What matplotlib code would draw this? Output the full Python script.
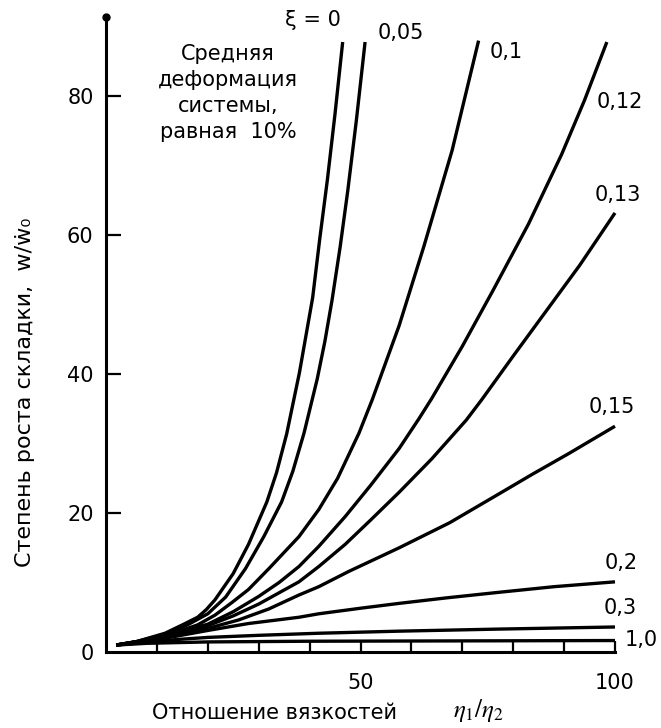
import matplotlib
matplotlib.use("Agg")
import matplotlib.pyplot as plt

plt.rcParams['font.family'] = ['DejaVu Sans']
plt.rcParams['mathtext.fontset'] = 'stix'

# ---- data ----
xi_labels = ["ξ = 0", "0,05", "0,1", "0,12", "0,13", "0,15", "0,2", "0,3", "1,0"]

eta_xi0 = [2, 6, 11.6, 15, 18, 19.7, 21.4, 25, 28, 31.6, 33.5, 35.5, 38, 40.6, 42, 43.5, 45, 46.5]
w_xi0 = [1.0, 1.5, 2.7, 3.9, 5.0, 6.1, 7.5, 11.3, 15.5, 21.6, 25.8, 31.4, 40.2, 51.0, 59.5, 68.0, 77.5, 87.8]

eta_xi005 = [2, 6, 12, 16, 20, 23.5, 27.4, 31, 34.5, 36.7, 38.9, 41.5, 43, 44.4, 46, 47.5, 49.2, 50.9]
w_xi005 = [1.0, 1.5, 2.6, 3.9, 5.5, 7.9, 12.0, 16.6, 21.6, 26.0, 31.5, 39.3, 44.7, 50.6, 58.3, 66.4, 76.6, 87.8]

eta_xi01 = [2, 8, 14, 18, 21.4, 24.7, 28, 32, 37.9, 41.8, 45.5, 49.7, 52.3, 57.6, 62.5, 68, 73.2]
w_xi01 = [1.0, 1.7, 2.9, 3.9, 5.3, 7.1, 9.0, 12.0, 16.6, 20.5, 25.0, 31.5, 36.3, 47.0, 58.5, 72.2, 88.0]

eta_xi012 = [2, 8, 14, 20, 25, 30, 34, 37.9, 41.8, 47, 52, 57.6, 61.5, 64, 70, 76, 83, 89.5, 94, 98.4]
w_xi012 = [1.0, 1.7, 2.8, 4.0, 5.8, 8.0, 10.0, 12.3, 15.2, 19.5, 24.0, 29.3, 33.6, 36.5, 44.0, 52.0, 61.6, 71.6, 79.4, 87.8]

eta_xi013 = [2, 8, 14, 20, 25, 30, 37.9, 41.8, 47, 52, 57.6, 64, 70.8, 73.8, 80, 87, 93.1, 100]
w_xi013 = [1.0, 1.7, 2.7, 3.8, 5.2, 6.9, 10.1, 12.3, 15.5, 19.0, 23.0, 27.8, 33.4, 36.3, 42.6, 49.6, 55.7, 63.2]

eta_xi015 = [2, 8, 14, 20, 26, 32, 37.9, 41.8, 47.7, 57.6, 67.5, 77.3, 83.8, 91, 100]
w_xi015 = [1.0, 1.6, 2.5, 3.4, 4.6, 6.2, 8.2, 9.4, 11.6, 15.0, 18.6, 22.8, 25.6, 28.6, 32.5]

eta_xi02 = [2, 8, 14, 20, 28, 37.9, 41.8, 50, 57.6, 67, 77.3, 88, 100]
w_xi02 = [1.0, 1.5, 2.3, 3.1, 4.1, 5.0, 5.5, 6.3, 7.0, 7.8, 8.6, 9.4, 10.1]

eta_xi03 = [2, 8, 14, 20, 30, 41.8, 57.6, 77.3, 100]
w_xi03 = [1.0, 1.4, 1.8, 2.1, 2.4, 2.7, 3.0, 3.3, 3.6]

eta_xi1 = [2, 8, 20, 40, 70, 100]
w_xi1 = [1.0, 1.25, 1.45, 1.55, 1.6, 1.65]

y_ticks = [0, 20, 40, 60, 80]
y_tick_labels = ["0", "20", "40", "60", "80"]
x_ticks = [10, 20, 30, 40, 50, 60, 70, 80, 90, 100]
x_tick_labels = ["", "", "", "", "50", "", "", "", "", "100"]

series = [
    (eta_xi0, w_xi0), (eta_xi005, w_xi005), (eta_xi01, w_xi01),
    (eta_xi012, w_xi012), (eta_xi013, w_xi013), (eta_xi015, w_xi015),
    (eta_xi02, w_xi02), (eta_xi03, w_xi03), (eta_xi1, w_xi1),
]

# ---- layout ----
W, H = 661, 728
fig = plt.figure(figsize=(W / 100, H / 100), dpi=100)
ax = fig.add_axes([106 / W, 1 - 652 / H, (615 - 106) / W, (652 - 17) / H])
ax.set_xlim(0, 100)
ax.set_ylim(0, 91.4)

for eta, w in series:
    ax.plot(eta, w, color='black', lw=2.4, solid_capstyle='butt',
            solid_joinstyle='round', clip_on=False)

for s in ['top', 'right']:
    ax.spines[s].set_visible(False)
for s in ['left', 'bottom']:
    ax.spines[s].set_linewidth(2.2)
    ax.spines[s].set_color('black')

ax.set_yticks(y_ticks)
ax.set_yticklabels(y_tick_labels)
ax.set_xticks(x_ticks)
ax.set_xticklabels(x_tick_labels)
ax.tick_params(axis='y', direction='in', length=11, width=1.6, pad=9, labelsize=15)
ax.tick_params(axis='x', direction='in', length=8, width=1.6, pad=15, labelsize=15)
ax.yaxis.get_major_ticks()[0].tick1line.set_visible(False)

# dot at the top of the y axis
ax.plot([0], [1], 'o', color='black', ms=5, transform=ax.transAxes, clip_on=False)

def fx(x):
    return x / W

def fy(y):
    return 1 - y / H

# curve labels
label_pos = [(313, 20), (401, 33), (506, 52), (620, 102), (618, 195),
             (612, 407), (621, 563), (620, 608), (641, 640)]
for txt, (x, y) in zip(xi_labels, label_pos):
    fig.text(fx(x), fy(y), txt, ha='center', va='center', fontsize=15)

fig.text(fx(228), fy(93), "Средняя\nдеформация\nсистемы,\nравная  10%",
         ha='center', va='center', fontsize=15, linespacing=1.38)

fig.text(fx(275), fy(713), "Отношение вязкостей",
         ha='center', va='center', fontsize=15)
fig.text(fx(478), fy(711), "$\\eta_1/\\eta_2$",
         ha='center', va='center', fontsize=18)
fig.text(fx(25), fy(392), "Степень роста складки,  w/ẇ₀", rotation=90,
         ha='center', va='center', fontsize=16)

fig.savefig("out.png", dpi=100, facecolor='white')
